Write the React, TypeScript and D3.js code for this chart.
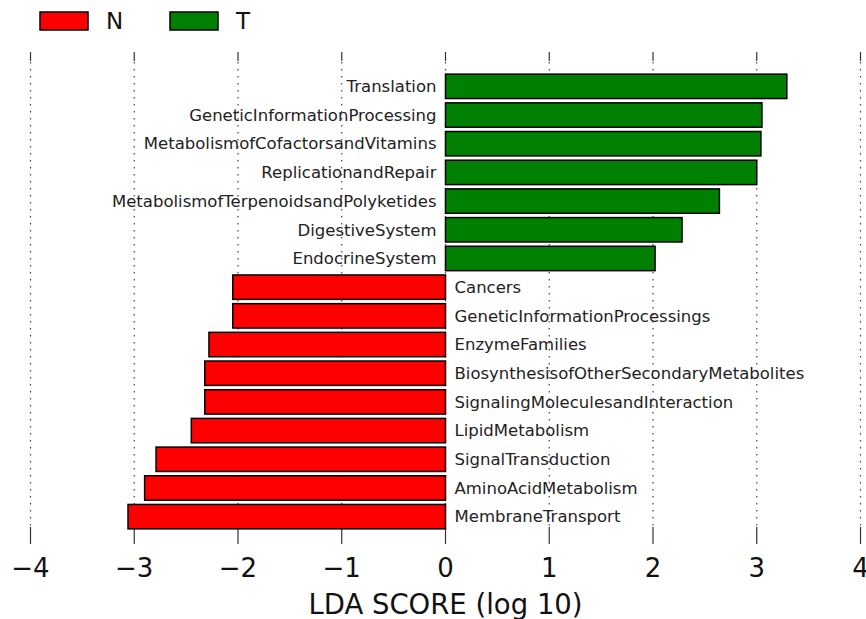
import React, { useEffect, useRef } from 'react';
import * as d3 from 'd3';

// 通路名称（从上到下）
const features = [
  'Translation',
  'GeneticInformationProcessing',
  'MetabolismofCofactorsandVitamins',
  'ReplicationandRepair',
  'MetabolismofTerpenoidsandPolyketides',
  'DigestiveSystem',
  'EndocrineSystem',
  'Cancers',
  'GeneticInformationProcessings',
  'EnzymeFamilies',
  'BiosynthesisofOtherSecondaryMetabolites',
  'SignalingMoleculesandInteraction',
  'LipidMetabolism',
  'SignalTransduction',
  'AminoAcidMetabolism',
  'MembraneTransport',
];

// LDA 分数（log10）
const ldaScores = [
  3.29, 3.05, 3.04, 3.0, 2.64, 2.28, 2.02,
  -2.05, -2.05, -2.28, -2.32, -2.32, -2.45, -2.79, -2.9, -3.06,
];

const groups = ['N', 'T'];
const groupColors = ['#ff0000', '#008000'];
const xTicks = [-4, -3, -2, -1, 0, 1, 2, 3, 4];

export default function App() {
  const ref = useRef<SVGSVGElement | null>(null);

  useEffect(() => {
    const svg = d3.select(ref.current);
    svg.selectAll('*').remove();

    const width = 866, height = 619;
    const top = 52, bottom = 536;

    const x = d3.scaleLinear().domain([-4, 4]).range([30.5, 860.5]);
    const y = d3.scaleBand<string>()
      .domain(features)
      .range([72, 531])
      .paddingInner(0.15)
      .paddingOuter(0.075);

    const color = d3.scaleOrdinal<string, string>().domain(groups).range(groupColors);

    // 网格线（点线）
    svg.append('g')
      .selectAll('line')
      .data(xTicks)
      .join('line')
      .attr('x1', d => x(d)).attr('x2', d => x(d))
      .attr('y1', top + 10).attr('y2', bottom - 10)
      .attr('stroke', '#444')
      .attr('stroke-width', 1.2)
      .attr('stroke-dasharray', '1.5,5.5');

    // 上下刻度
    const ticks = svg.append('g');
    ticks.selectAll('line.top')
      .data(xTicks)
      .join('line')
      .attr('class', 'top')
      .attr('x1', d => x(d)).attr('x2', d => x(d))
      .attr('y1', top).attr('y2', top + 9)
      .attr('stroke', '#333').attr('stroke-width', 1.2);
    ticks.selectAll('line.bottom')
      .data(xTicks)
      .join('line')
      .attr('class', 'bottom')
      .attr('x1', d => x(d)).attr('x2', d => x(d))
      .attr('y1', bottom - 9).attr('y2', bottom + 8)
      .attr('stroke', '#333').attr('stroke-width', 1.2);

    // 条形
    const rows = features.map((f, i) => ({ name: f, value: ldaScores[i] }));
    svg.append('g')
      .selectAll('rect')
      .data(rows)
      .join('rect')
      .attr('x', d => x(Math.min(0, d.value)))
      .attr('y', d => y(d.name)!)
      .attr('width', d => Math.abs(x(d.value) - x(0)))
      .attr('height', y.bandwidth())
      .attr('fill', d => color(d.value > 0 ? 'T' : 'N'))
      .attr('stroke', '#000')
      .attr('stroke-width', 1.5);

    // 条形标签
    svg.append('g')
      .selectAll('text')
      .data(rows)
      .join('text')
      .attr('x', d => (d.value > 0 ? x(0) - 9 : x(0) + 9))
      .attr('y', d => y(d.name)! + y.bandwidth() / 2)
      .attr('dy', '0.35em')
      .attr('text-anchor', d => (d.value > 0 ? 'end' : 'start'))
      .attr('font-family', 'DejaVu Sans')
      .attr('font-size', 16.5)
      .attr('fill', '#222')
      .text(d => d.name);

    // x 轴刻度标签
    svg.append('g')
      .selectAll('text')
      .data(xTicks)
      .join('text')
      .attr('x', d => x(d))
      .attr('y', 577)
      .attr('text-anchor', 'middle')
      .attr('font-family', 'DejaVu Sans')
      .attr('font-size', 26)
      .attr('fill', '#111')
      .text(d => d3.format('')(d).replace('-', '\u2212'));

    svg.append('text')
      .attr('x', x(0))
      .attr('y', 614)
      .attr('text-anchor', 'middle')
      .attr('font-family', 'DejaVu Sans')
      .attr('font-size', 27.5)
      .attr('fill', '#111')
      .text('LDA SCORE (log 10)');

    // 图例
    const legend = svg.append('g')
      .selectAll('g')
      .data(groups)
      .join('g')
      .attr('transform', (d, i) => `translate(${40 + i * 130},12)`);
    legend.append('rect')
      .attr('width', 48).attr('height', 18)
      .attr('fill', d => color(d))
      .attr('stroke', '#000').attr('stroke-width', 1.5);
    legend.append('text')
      .attr('x', 66).attr('y', 9)
      .attr('dy', '0.35em')
      .attr('font-family', 'DejaVu Sans')
      .attr('font-size', 23)
      .attr('fill', '#111')
      .text(d => d);

    svg.attr('width', width).attr('height', height);
  }, []);

  return (
    <svg ref={ref} width={866} height={619}
      style={{ position: 'absolute', left: 0, top: 0, background: '#fff' }} />
  );
}
